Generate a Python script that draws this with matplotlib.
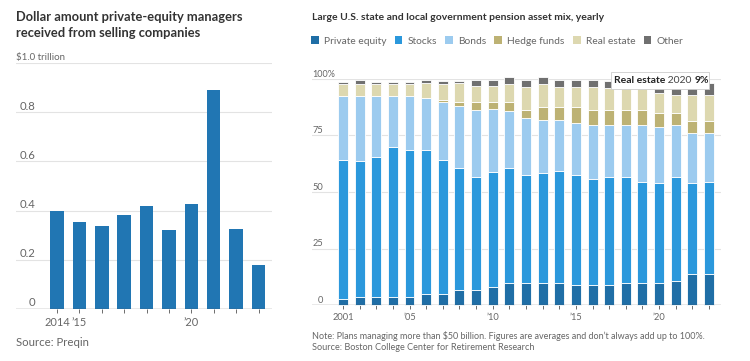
import matplotlib
matplotlib.use("Agg")
import matplotlib.pyplot as plt
from matplotlib.patches import Rectangle
from matplotlib.transforms import offset_copy

plt.rcParams['font.family'] = ['Lato', 'DejaVu Sans']

# ---------------- data ----------------
pe_years = [2014, 2015, 2016, 2017, 2018, 2019, 2020, 2021, 2022, 2023]
pe_values = [0.40, 0.354, 0.337, 0.382, 0.418, 0.322, 0.427, 0.89, 0.327, 0.18]

mix_years = list(range(2001, 2024))
private_equity = [2.7, 3.4, 3.4, 3.4, 3.4, 4.9, 4.9, 6.6, 6.6, 7.8, 9.7, 9.6, 9.6, 9.6,
                  8.7, 8.7, 8.7, 9.6, 9.6, 9.6, 10.6, 13.6, 13.6]
stocks = [61.6, 60.2, 62.2, 66.4, 65.3, 63.8, 59.4, 53.9, 50.0, 50.9, 50.8, 47.8, 49.0, 49.8,
          48.7, 47.1, 47.8, 47.2, 45.0, 44.2, 45.9, 40.2, 41.0]
bonds = [28.3, 29.0, 27.0, 22.8, 23.9, 22.9, 25.6, 27.4, 29.8, 28.0, 25.2, 25.2, 23.3, 22.5,
         23.3, 23.8, 23.1, 22.8, 25.0, 24.8, 23.1, 22.2, 21.4]
hedge_funds = [0, 0, 0, 0, 0, 0, 0.7, 1.9, 3.4, 3.1, 4.0, 3.7, 5.9, 5.9,
               7.1, 6.7, 6.7, 6.7, 6.7, 6.2, 5.2, 5.6, 5.6]
real_estate = [5.3, 5.3, 5.3, 5.2, 5.2, 6.5, 7.2, 8.3, 7.0, 7.0, 8.2, 10.2, 10.0, 8.8,
               8.8, 10.0, 9.6, 9.6, 9.6, 9.0, 8.1, 11.3, 11.3]
other = [0.9, 1.7, 0.8, 0.9, 0.9, 1.5, 1.5, 1.2, 2.9, 2.9, 3.0, 3.2, 2.9, 3.0,
         3.0, 3.3, 3.4, 3.0, 3.0, 2.2, 3.0, 3.0, 5.2]

series_names = ['Private equity', 'Stocks', 'Bonds', 'Hedge funds', 'Real estate', 'Other']
series_values = [private_equity, stocks, bonds, hedge_funds, real_estate, other]
series_colors = ['#1f6ea6', '#2b98dc', '#9ccbef', '#bdb274', '#ddd8b0', '#707070']

left_ticks = [0, 0.2, 0.4, 0.6, 0.8, 1.0]
left_tick_labels = ['0', '0.2', '0.4', '0.6', '0.8', '$1.0 trillion']
right_ticks = [0, 25, 50, 75, 100]
right_tick_labels = ['0', '25', '50', '75', '100%']
left_xlabels = {2014: '2014', 2015: '\u201915', 2020: '\u201920'}
right_xlabels = {2001: '2001', 2005: '\u201905', 2010: '\u201910', 2015: '\u201915', 2020: '\u201920'}

W, H = 750, 361
fig = plt.figure(figsize=(W / 100, H / 100), dpi=100)
fig.patch.set_facecolor('white')

def px_axes(x0, x1, ytop, ybot):
    return fig.add_axes([x0 / W, (H - ybot) / H, (x1 - x0) / W, (ybot - ytop) / H])

grid_c = '#e3e3e3'
tick_c = '#666666'
title_c = '#333333'

# ---------------- left chart ----------------
axl = px_axes(16, 272, 63, 309)
axl.set_xlim(2012.17, 2023.6)
axl.set_ylim(0, 1.0)
axl.bar(pe_years, pe_values, width=0.6, color='#2176b3', zorder=3)
for t in left_ticks[1:]:
    axl.axhline(t, color=grid_c, lw=0.8, zorder=1)
axl.axhline(0, color='#555555', lw=0.9, zorder=4)
for s in axl.spines.values():
    s.set_visible(False)
axl.set_yticks([])
axl.set_xticks(pe_years)
axl.set_xticklabels([left_xlabels.get(y, '') for y in pe_years])
axl.tick_params(axis='x', length=3, width=0.6, color='#555555', labelsize=7.9,
                labelcolor=tick_c, pad=3)
trl = offset_copy(axl.get_yaxis_transform(), fig=fig, x=0, y=2.5, units='dots')
for t, lab in zip(left_ticks, left_tick_labels):
    if t == 1.0:
        axl.text(0.0, t, lab, transform=trl, ha='left', va='baseline', fontsize=7.0, color=tick_c)
    else:
        axl.text(19 / 256, t, lab, transform=trl, ha='right', va='baseline', fontsize=8.2,
                 color=tick_c)

fig.text(16 / W, 1 - 11 / H, 'Dollar amount private-equity managers\nreceived from selling companies',
         ha='left', va='top', fontsize=9.3, fontweight='bold', color=title_c, linespacing=1.42)
fig.text(16 / W, 1 - 343 / H, 'Source: Preqin', ha='left', va='center', fontsize=8.2, color=tick_c)

# ---------------- right chart ----------------
axr = px_axes(312, 721, 79, 305)
axr.set_xlim(1999.14, 2023.72)
axr.set_ylim(0, 100)
bottom = [0.0] * len(mix_years)
for name, vals, col in zip(series_names, series_values, series_colors):
    axr.bar(mix_years, vals, bottom=bottom, width=0.6, color=col, edgecolor='white',
            linewidth=0.6, zorder=3, clip_on=False, label=name)
    bottom = [b + v for b, v in zip(bottom, vals)]
for t in right_ticks[1:]:
    axr.axhline(t, color=grid_c, lw=0.8, zorder=1)
axr.axhline(0, color='#555555', lw=0.9, zorder=4)
for s in axr.spines.values():
    s.set_visible(False)
axr.set_yticks([])
axr.set_xticks(mix_years)
axr.set_xticklabels([right_xlabels.get(y, '') for y in mix_years])
axr.tick_params(axis='x', length=3, width=0.6, color='#555555', labelsize=6.7,
                labelcolor=tick_c, pad=3)
trr = offset_copy(axr.get_yaxis_transform(), fig=fig, x=0, y=2.0, units='dots')
for t, lab in zip(right_ticks, right_tick_labels):
    if t == 100:
        axr.text(0.0, t, lab, transform=trr, ha='left', va='baseline', fontsize=6.5, color=tick_c)
    else:
        axr.text(11 / 409, t, lab, transform=trr, ha='right', va='baseline', fontsize=6.7,
                 color=tick_c)

fig.text(312 / W, 1 - 18 / H, 'Large U.S. state and local government pension asset mix, yearly',
         ha='left', va='center', fontsize=7.5, fontweight='bold', color=title_c)

# legend
leg = axr.legend(loc='center left', bbox_to_anchor=(311 / W, 1 - 41 / H), bbox_transform=fig.transFigure,
                 ncol=6, frameon=False, fontsize=7.4, handlelength=0.75, handleheight=0.75,
                 handletextpad=0.5, columnspacing=0.8, borderaxespad=0, borderpad=0)
for txt in leg.get_texts():
    txt.set_color(tick_c)
for h in leg.legend_handles:
    h.set_edgecolor('none')

fig.text(312 / W, 1 - 336 / H,
         "Note: Plans managing more than $50 billion. Figures are averages and don\u2019t always add up to 100%.",
         ha='left', va='center', fontsize=6.5, color=tick_c)
fig.text(312 / W, 1 - 348 / H, 'Source: Boston College Center for Retirement Research',
         ha='left', va='center', fontsize=6.6, color=tick_c)

# tooltip
fig.patches.append(Rectangle((611 / W, 1 - 89 / H), 98 / W, 17 / H, transform=fig.transFigure,
                             facecolor='white', edgecolor='#cccccc', lw=0.6, zorder=10))
t1 = fig.text(614 / W, 1 - 80.5 / H, 'Real estate', ha='left', va='center', fontsize=7.5,
              fontweight='bold', color='#222222', zorder=11)
t2 = fig.text(0, 0, ' 2020 ', ha='left', va='baseline', fontsize=7.5, color='#444444', zorder=11)
t3 = fig.text(0, 0, '9%', ha='left', va='baseline', fontsize=7.5, fontweight='bold',
              color='#222222', zorder=11)
fig.canvas.draw()
r = fig.canvas.get_renderer()
bb1 = t1.get_window_extent(r)
base_y = (bb1.y0 + 2.0) / fig.bbox.height
t2.set_position((bb1.x1 / fig.bbox.width, base_y))
bb2 = t2.get_window_extent(r)
t3.set_position((bb2.x1 / fig.bbox.width, base_y))

fig.savefig('out.png', dpi=100, facecolor='white')
